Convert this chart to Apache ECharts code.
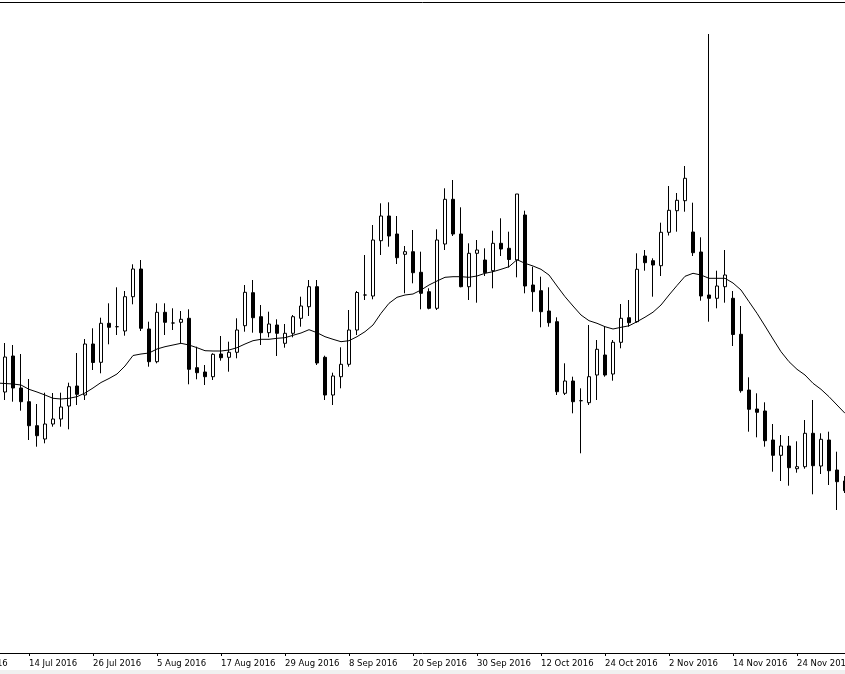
<!DOCTYPE html>
<html>
<head>
<meta charset="utf-8">
<script src="https://cdn.jsdelivr.net/npm/echarts/dist/echarts.min.js"></script>
<style>
html,body{margin:0;padding:0;background:#ffffff;}
#chart{width:845px;height:674px;}
</style>
</head>
<body>
<div id="chart"></div>
<script>
// ---- categories (trading days) ----
const julDays = [4,5,6,7,8,11,12,13,14,15,18,19,20,21,22,25,26,27,28,29];
const augDays = [1,2,3,4,5,8,9,10,11,12,15,16,17,18,19,22,23,24,25,26,29,30,31];
const sepDays = [1,2,5,6,7,8,9,12,13,14,15,16,19,20,21,22,23,26,27,28,29,30];
const octDays = [3,4,5,6,7,10,11,12,13,14,17,18,19,20,21,24,25,26,27,28,30,31];
const novDays = [1,2,3,4,7,8,9,10,11,14,15,16,17,18,21,22,23,24,25,28,29,30];
const decDays = [1,2];

// ---- OHLC values (first 5 trading days are left of the visible window) ----
const opens = [308,344,312,298.3,274.3,261,276,281,294,314,305,356,337.7,376.7,373.3,369,403.3,431,371,338.3,
387.7,377,377.7,381.7,332.3,328,323.3,346,342.7,347.7,374.3,407.3,383.3,367.3,375,356.7,366.7,381.7,393.3,413.3,
342.7,305,323.3,335.7,370,405,404,459.3,484,466,445.7,448.3,427.7,408.3,391.7,456,500.7,466,413.3,446.7,
440,429.3,456.7,451.7,440,485,415,409.3,389,378.3,306.7,319,299.3,297.3,325,345,326,357.7,382.3,378.3,
444,439.3,434.3,467.7,489.3,499.3,468,448,405,401.7,413.3,401.7,365.7,310,291,289,260,244.7,254,231.3,
233.3,266.7,234,260,230,219];
const closes = [343,312,298.3,274.3,264.3,276,281,293,313.3,305.7,356,337.5,376.7,372.7,373.3,403.3,431,371.7,338.3,387.7,
377.7,377,380.7,330.7,327.3,323.3,345.7,342.3,347.7,370,407.7,382.3,367.3,376,366.7,366.7,383.3,394,413.3,337,
305,324,335.7,370,407.5,405,460,484,464,442.3,448.3,427.3,406.7,391.7,460,500.7,466,413.3,446.7,450,
427.3,456.7,451,440.5,506,414,408.3,388.3,377.3,308.3,319,298.3,299.3,323.3,350.7,325,357.7,381.7,377.3,430.7,
437.3,435,467.7,489.7,499.7,521.7,447.3,404,401.7,414,425,365.5,309.3,290.7,287.7,259.3,244.7,254,232.3,233.3,
266.7,234.3,260.7,229.3,218.3,209.3];
const lows = [300,298.3,289.3,260,253.3,256.7,273.3,273.3,270.7,295,300,330,326.7,355.7,365,364.3,395.7,369,333.3,336.7,
365,370,356.7,315.7,320.7,315,320,339.3,328.3,341.7,368.3,367.3,355,362.7,344,352.3,362.7,373.3,384,335,
300,295,311.7,333.3,365,400,400.7,445,453.3,436,406.7,416.7,390.7,390.7,390,450,464,412.7,400,397.3,
424,411.7,444,432.5,422.7,406.7,388.3,372.7,373.3,305,305,286.7,246.7,295,300,323.3,319.3,351.7,373.3,377.3,
429.3,403.3,424,464.5,468.3,488.3,444,399.3,378.3,391.7,397.3,354,307.3,268.3,262.7,253.3,228.3,219,214.3,227.3,
231.3,205.7,226,215,190,207];
const highs = [357,355,346,321,296,307.3,307,307.3,317.3,347,361,371.7,382.3,396.7,412.7,409,435.7,440,378.3,396.7,
396.7,391.7,389,390.7,353.3,335,346.7,364,358.3,381.7,415,420,395,388.3,380.7,376,385,403.3,420,420,
344.3,327.3,352.7,390,409,445,475,496.7,497.7,484,454,470,448.3,411.7,470.7,511.7,520,492.7,456.7,460,
451.7,469.3,481.7,468.3,506,489.3,433.3,423.3,412.7,382.7,336.7,323.3,311.7,375,360,373.3,360,396,400,446.7,
450,441.7,477.3,514,507,534,497.3,462.7,666,429.3,450,409,394,322.7,306.7,297.7,276,265,264,258.7,
280,300,266.7,268.3,248.3,224];

// ---- moving average line values ----
const maValues = ['-','-','-','-',317,
316.5,316,315,310.7,308,305,301.7,301,301.7,303.3,307,312,317.5,321.5,326,334,344.5,346,347,351,
353.3,355,356.7,355,352.3,349.3,349,349,350,352.3,356,359.3,360.7,360.7,361.7,362.3,364.7,367,370.3,367.3,
363.3,360.7,358.3,359.3,363.3,368.3,375,386.7,396.7,402.7,405,406,410,415,419,422.7,423.3,423.3,422.7,424,
426.7,428.3,430.7,433.3,440.3,436.7,434,430.7,425,414,403.3,394,385,379.3,376.7,373.3,371,372.7,374.2,378.3,
382.8,387.8,395,405,414.5,423.7,426.7,425,421.7,421.7,421.7,417,410,398.3,386.7,374,361,348.3,338.3,330.7,
325,316.7,310.7,303.3,295,286.7];

// ---- build library structures ----
const monthNames = ['Jul','Aug','Sep','Oct','Nov','Dec'];
const allMonths = [julDays, augDays, sepDays, octDays, novDays, decDays];
const categories = [];
allMonths.forEach((days, m) => days.forEach(d => categories.push(d + ' ' + monthNames[m] + ' 2016')));

const candleData = [];
for (let i = 0; i < 5; i++) candleData.push(['-','-','-','-']);
for (let i = 0; i < opens.length; i++) candleData.push([opens[i], closes[i], lows[i], highs[i]]);

const chart = echarts.init(document.getElementById('chart'), null, {renderer: 'canvas'});
chart.setOption({
  animation: false,
  backgroundColor: '#ffffff',
  grid: {
    left: -39, right: -4, top: 2, bottom: 21,
    containLabel: false,
    outerBoundsMode: 'none',
    show: false
  },
  xAxis: {
    type: 'category',
    data: categories,
    boundaryGap: true,
    axisLine: {show: true, lineStyle: {color: '#000000', width: 1}},
    axisTick: {show: true, interval: 7, alignWithLabel: true, length: 3, lineStyle: {color: '#000000'}},
    axisLabel: {
      show: true, interval: 7, align: 'left', margin: 6, hideOverlap: false,
      color: '#000000', fontFamily: 'DejaVu Sans', fontSize: 8.5
    },
    splitLine: {show: false}
  },
  yAxis: {
    type: 'value',
    min: 47, max: 698,
    show: false,
    splitLine: {show: false}
  },
  graphic: [
    {
      type: 'line', z: 100,
      shape: {x1: 0, y1: 2.5, x2: 845, y2: 2.5},
      style: {stroke: '#000000', lineWidth: 1}
    },
    {
      type: 'rect', left: 0, top: 670, z: 100,
      shape: {x: 0, y: 0, width: 845, height: 4},
      style: {fill: '#f0f0f0'}
    }
  ],
  series: [
    {
      type: 'candlestick',
      data: candleData,
      barWidth: 4,
      itemStyle: {
        color: '#ffffff', color0: '#000000',
        borderColor: '#000000', borderColor0: '#000000',
        borderWidth: 1
      }
    },
    {
      type: 'line',
      data: maValues,
      showSymbol: false,
      symbol: 'none',
      smooth: false,
      z: 5,
      lineStyle: {color: '#000000', width: 1}
    }
  ]
});
</script>
</body>
</html>
